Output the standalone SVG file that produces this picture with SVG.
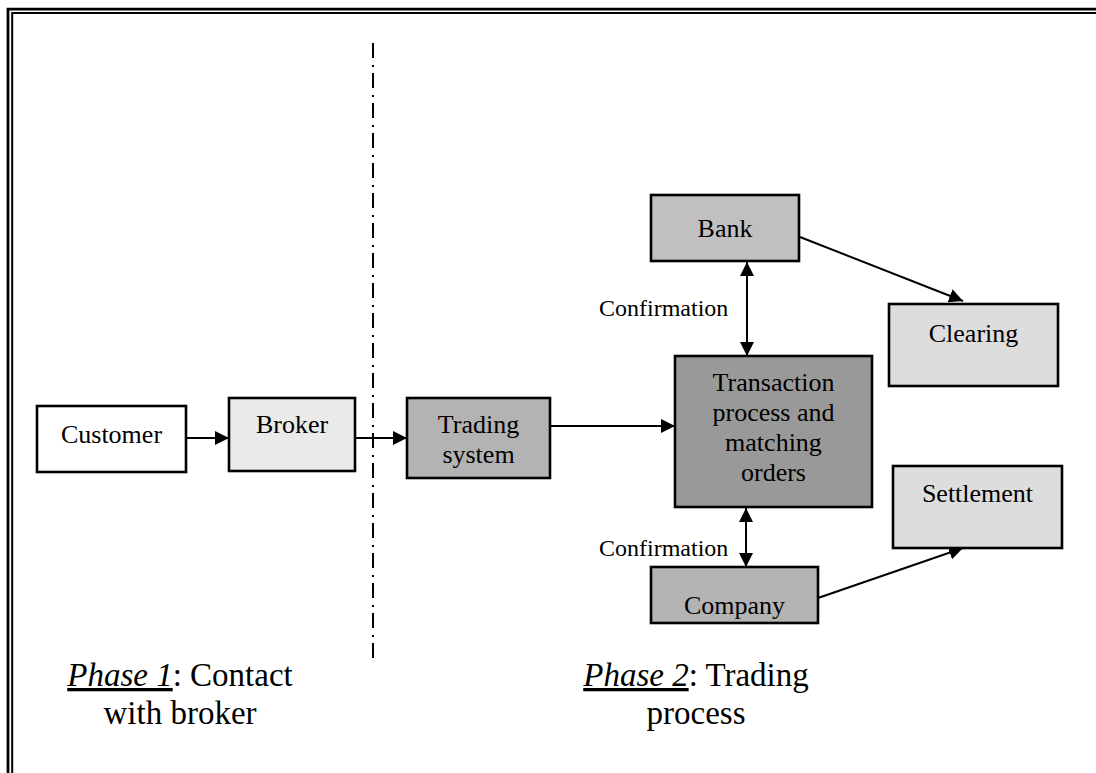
<svg xmlns="http://www.w3.org/2000/svg" width="1096" height="773" viewBox="0 0 1096 773">
  <style>
    .box { stroke: #000; stroke-width: 2.6; }
    .lbl { font-family: "Liberation Serif", "Times New Roman", serif; font-size: 26px; fill: #000; text-anchor: middle; }
    .note { font-family: "Liberation Serif", "Times New Roman", serif; font-size: 24px; fill: #000; }
    .phase { font-family: "Liberation Serif", "Times New Roman", serif; font-size: 33px; fill: #000; text-anchor: middle; }
    .edge { stroke: #000; stroke-width: 2; fill: none; }
  </style>
  <defs>
    <marker id="head" viewBox="0 0 14 14" refX="14" refY="7" markerWidth="14" markerHeight="14" markerUnits="userSpaceOnUse" orient="auto-start-reverse">
      <path d="M0,0 L14,7 L0,14 Z" fill="#000"/>
    </marker>
  </defs>

  <rect width="1096" height="773" fill="#fff"/>

  <!-- page frame: thick outer rule with thin inner rule -->
  <g id="frame" fill="none" stroke="#000">
    <path d="M8,773 V9.2 H1096" stroke-width="2.8"/>
    <path d="M12.2,773 V12.9 H1096" stroke-width="2"/>
  </g>

  <!-- phase divider -->
  <line x1="373" y1="43" x2="373" y2="665" stroke="#000" stroke-width="2" stroke-dasharray="15 7 2 6"/>

  <g id="connectors">
    <line class="edge" x1="186" y1="438" x2="229" y2="438" marker-end="url(#head)"/>
    <line class="edge" x1="355" y1="438" x2="407" y2="438" marker-end="url(#head)"/>
    <line class="edge" x1="550" y1="426" x2="675" y2="426" marker-end="url(#head)"/>
    <line class="edge" x1="747" y1="262" x2="747" y2="356" marker-start="url(#head)" marker-end="url(#head)"/>
    <line class="edge" x1="746" y1="508" x2="746" y2="567" marker-start="url(#head)" marker-end="url(#head)"/>
    <line class="edge" x1="800" y1="237" x2="963" y2="301" marker-end="url(#head)"/>
    <line class="edge" x1="818" y1="598" x2="963" y2="548" marker-end="url(#head)"/>
    <text class="note" x="599" y="316">Confirmation</text>
    <text class="note" x="599" y="556">Confirmation</text>
  </g>

  <g id="customer">
    <rect class="box" x="37" y="406" width="149" height="66" fill="#fff"/>
    <text class="lbl" x="111.5" y="443">Customer</text>
  </g>

  <g id="broker">
    <rect class="box" x="229" y="398" width="126" height="73" fill="#eaeaea"/>
    <text class="lbl" x="292" y="433">Broker</text>
  </g>

  <g id="trading-system">
    <rect class="box" x="407" y="398" width="143" height="80" fill="#b3b3b3"/>
    <text class="lbl" x="478.5" y="433">Trading</text>
    <text class="lbl" x="478.5" y="463">system</text>
  </g>

  <g id="transaction">
    <rect class="box" x="675" y="356" width="197" height="151" fill="#999999"/>
    <text class="lbl" x="773.5" y="391">Transaction</text>
    <text class="lbl" x="773.5" y="421">process and</text>
    <text class="lbl" x="773.5" y="451">matching</text>
    <text class="lbl" x="773.5" y="481">orders</text>
  </g>

  <g id="bank">
    <rect class="box" x="651" y="195" width="148" height="66" fill="#c0c0c0"/>
    <text class="lbl" x="725" y="237">Bank</text>
  </g>

  <g id="clearing">
    <rect class="box" x="889" y="304" width="169" height="82" fill="#dddddd"/>
    <text class="lbl" x="973.5" y="342">Clearing</text>
  </g>

  <g id="settlement">
    <rect class="box" x="893" y="466" width="169" height="82" fill="#dddddd"/>
    <text class="lbl" x="977.5" y="502">Settlement</text>
  </g>

  <g id="company">
    <rect class="box" x="651" y="567" width="167" height="56" fill="#b3b3b3"/>
    <text class="lbl" x="734.5" y="614">Company</text>
  </g>

  <g id="phase-labels">
    <text class="phase" x="180" y="686"><tspan font-style="italic" text-decoration="underline">Phase 1</tspan>: Contact</text>
    <text class="phase" x="180" y="724">with broker</text>
    <text class="phase" x="696" y="686"><tspan font-style="italic" text-decoration="underline">Phase 2</tspan>: Trading</text>
    <text class="phase" x="696" y="724">process</text>
  </g>
</svg>
